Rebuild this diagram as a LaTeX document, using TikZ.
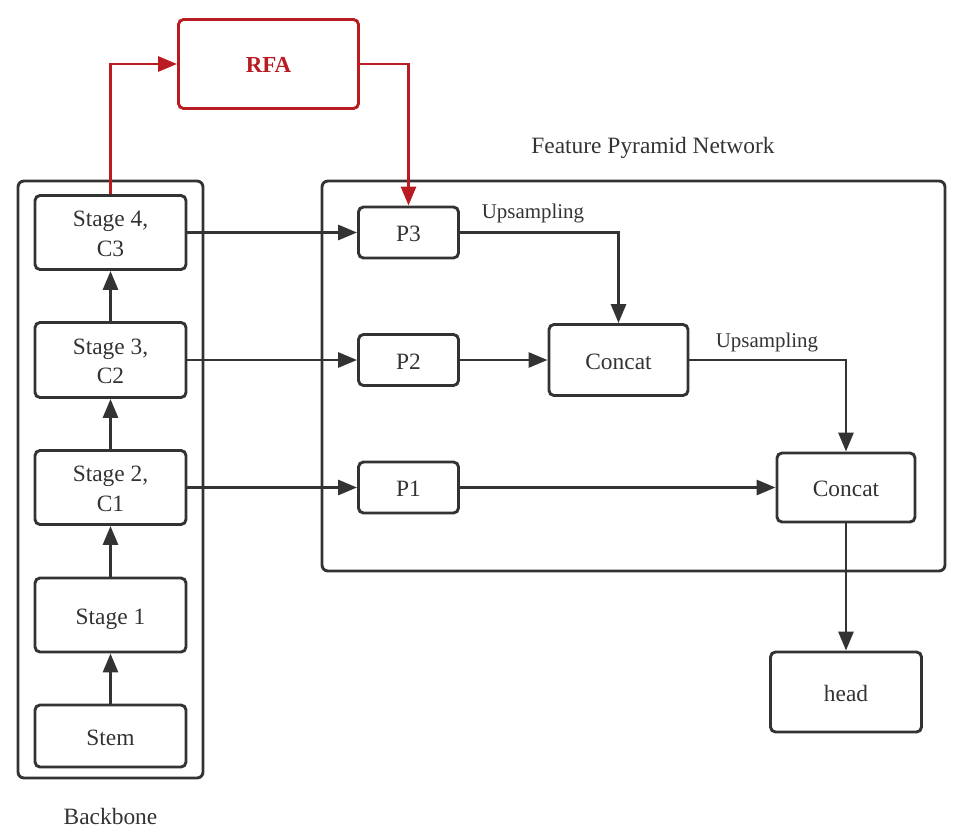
\documentclass[tikz,border=0pt]{standalone}
\usepackage{fontspec}
\setmainfont{Liberation Serif}
\newfontfamily\tnr{Liberation Serif}
\usetikzlibrary{arrows.meta}
\definecolor{dk}{HTML}{333333}
\definecolor{rd}{HTML}{B81C22}
\newcommand\lstrut{\rule[-0.216em]{0pt}{1.206em}}
\begin{document}
\begin{tikzpicture}[x=1bp,y=-1bp,
  box/.style={draw=dk, line width=2.9bp, rounded corners=5bp, inner sep=0pt, text=dk,
    font=\tnr\fontsize{23.5}{29.5}\selectfont, align=center},
  grp/.style={draw=dk, line width=2.9bp, rounded corners=6bp, inner sep=0pt},
  lbl/.style={text=dk, inner sep=0pt, font=\tnr\fontsize{23.5}{28}\selectfont},
  ulbl/.style={text=dk, inner sep=0pt, font=\tnr\fontsize{21}{25}\selectfont},
  conn/.style={draw=dk, line width=2.9bp, -{Triangle[length=19bp,width=15bp]}},
  rconn/.style={draw=rd, line width=2.9bp, -{Triangle[length=19bp,width=15bp]}}
]
\useasboundingbox (0,0) rectangle (968,833);
% groups
\node[grp, minimum width=185bp, minimum height=597bp] (bb) at (110.5,479.5) {};
\node[grp, minimum width=623bp, minimum height=390bp] (fpn) at (633.5,376) {};
\node[lbl] (bblbl) at (110.5,816) {Backbone};
\node[lbl] (fpnlbl) at (653,148) {Feature Pyramid Network};
% backbone
\node[box, minimum width=151bp, minimum height=74bp] (st4) at (110.5,232.5) {\lstrut Stage 4,\\\lstrut C3};
\node[box, minimum width=151bp, minimum height=75bp] (st3) at (110.5,360) {\lstrut Stage 3,\\\lstrut C2};
\node[box, minimum width=151bp, minimum height=74bp] (st2) at (110.5,487.5) {\lstrut Stage 2,\\\lstrut C1};
\node[box, minimum width=151bp, minimum height=74bp] (st1) at (110.5,615) {\lstrut Stage 1};
\node[box, minimum width=151bp, minimum height=62bp] (stem) at (110.5,736) {\lstrut Stem};
% RFA
\node[box, draw=rd, text=rd, minimum width=180bp, minimum height=89bp, font=\tnr\fontsize{23}{28}\selectfont\bfseries] (rfa) at (268.5,64) {\lstrut RFA};
% FPN
\node[box, minimum width=100bp, minimum height=51bp] (p3) at (408.5,232.5) {\lstrut P3};
\node[box, minimum width=100bp, minimum height=51bp] (p2) at (408.5,360) {\lstrut P2};
\node[box, minimum width=100bp, minimum height=51bp] (p1) at (408.5,487.5) {\lstrut P1};
\node[box, minimum width=139bp, minimum height=71bp] (c1) at (618.5,360) {\lstrut Concat};
\node[box, minimum width=138bp, minimum height=69bp] (c2) at (846,487.5) {\lstrut Concat};
\node[box, minimum width=151bp, minimum height=80bp] (head) at (846,692) {\lstrut head};
\node[ulbl] (up1) at (533,213) {Upsampling};
\node[ulbl] (up2) at (767,342) {Upsampling};
% connectors
\draw[conn] (stem) -- (st1);
\draw[conn] (st1) -- (st2);
\draw[conn] (st2) -- (st3);
\draw[conn] (st3) -- (st4);
\draw[conn] (st4.east) -- (p3.west);
\draw[conn] (st3.east) -- (p2.west);
\draw[conn] (st2.east) -- (p1.west);
\draw[conn] (p3.east) -| (c1.north);
\draw[conn] (p2) -- (c1);
\draw[conn] (c1.east) -| (c2.north);
\draw[conn] (p1) -- (c2);
\draw[conn] (c2) -- (head);
\draw[rconn] (st4.north) |- (rfa.west);
\draw[rconn] (rfa.east) -| (p3.north);
\end{tikzpicture}
\end{document}
